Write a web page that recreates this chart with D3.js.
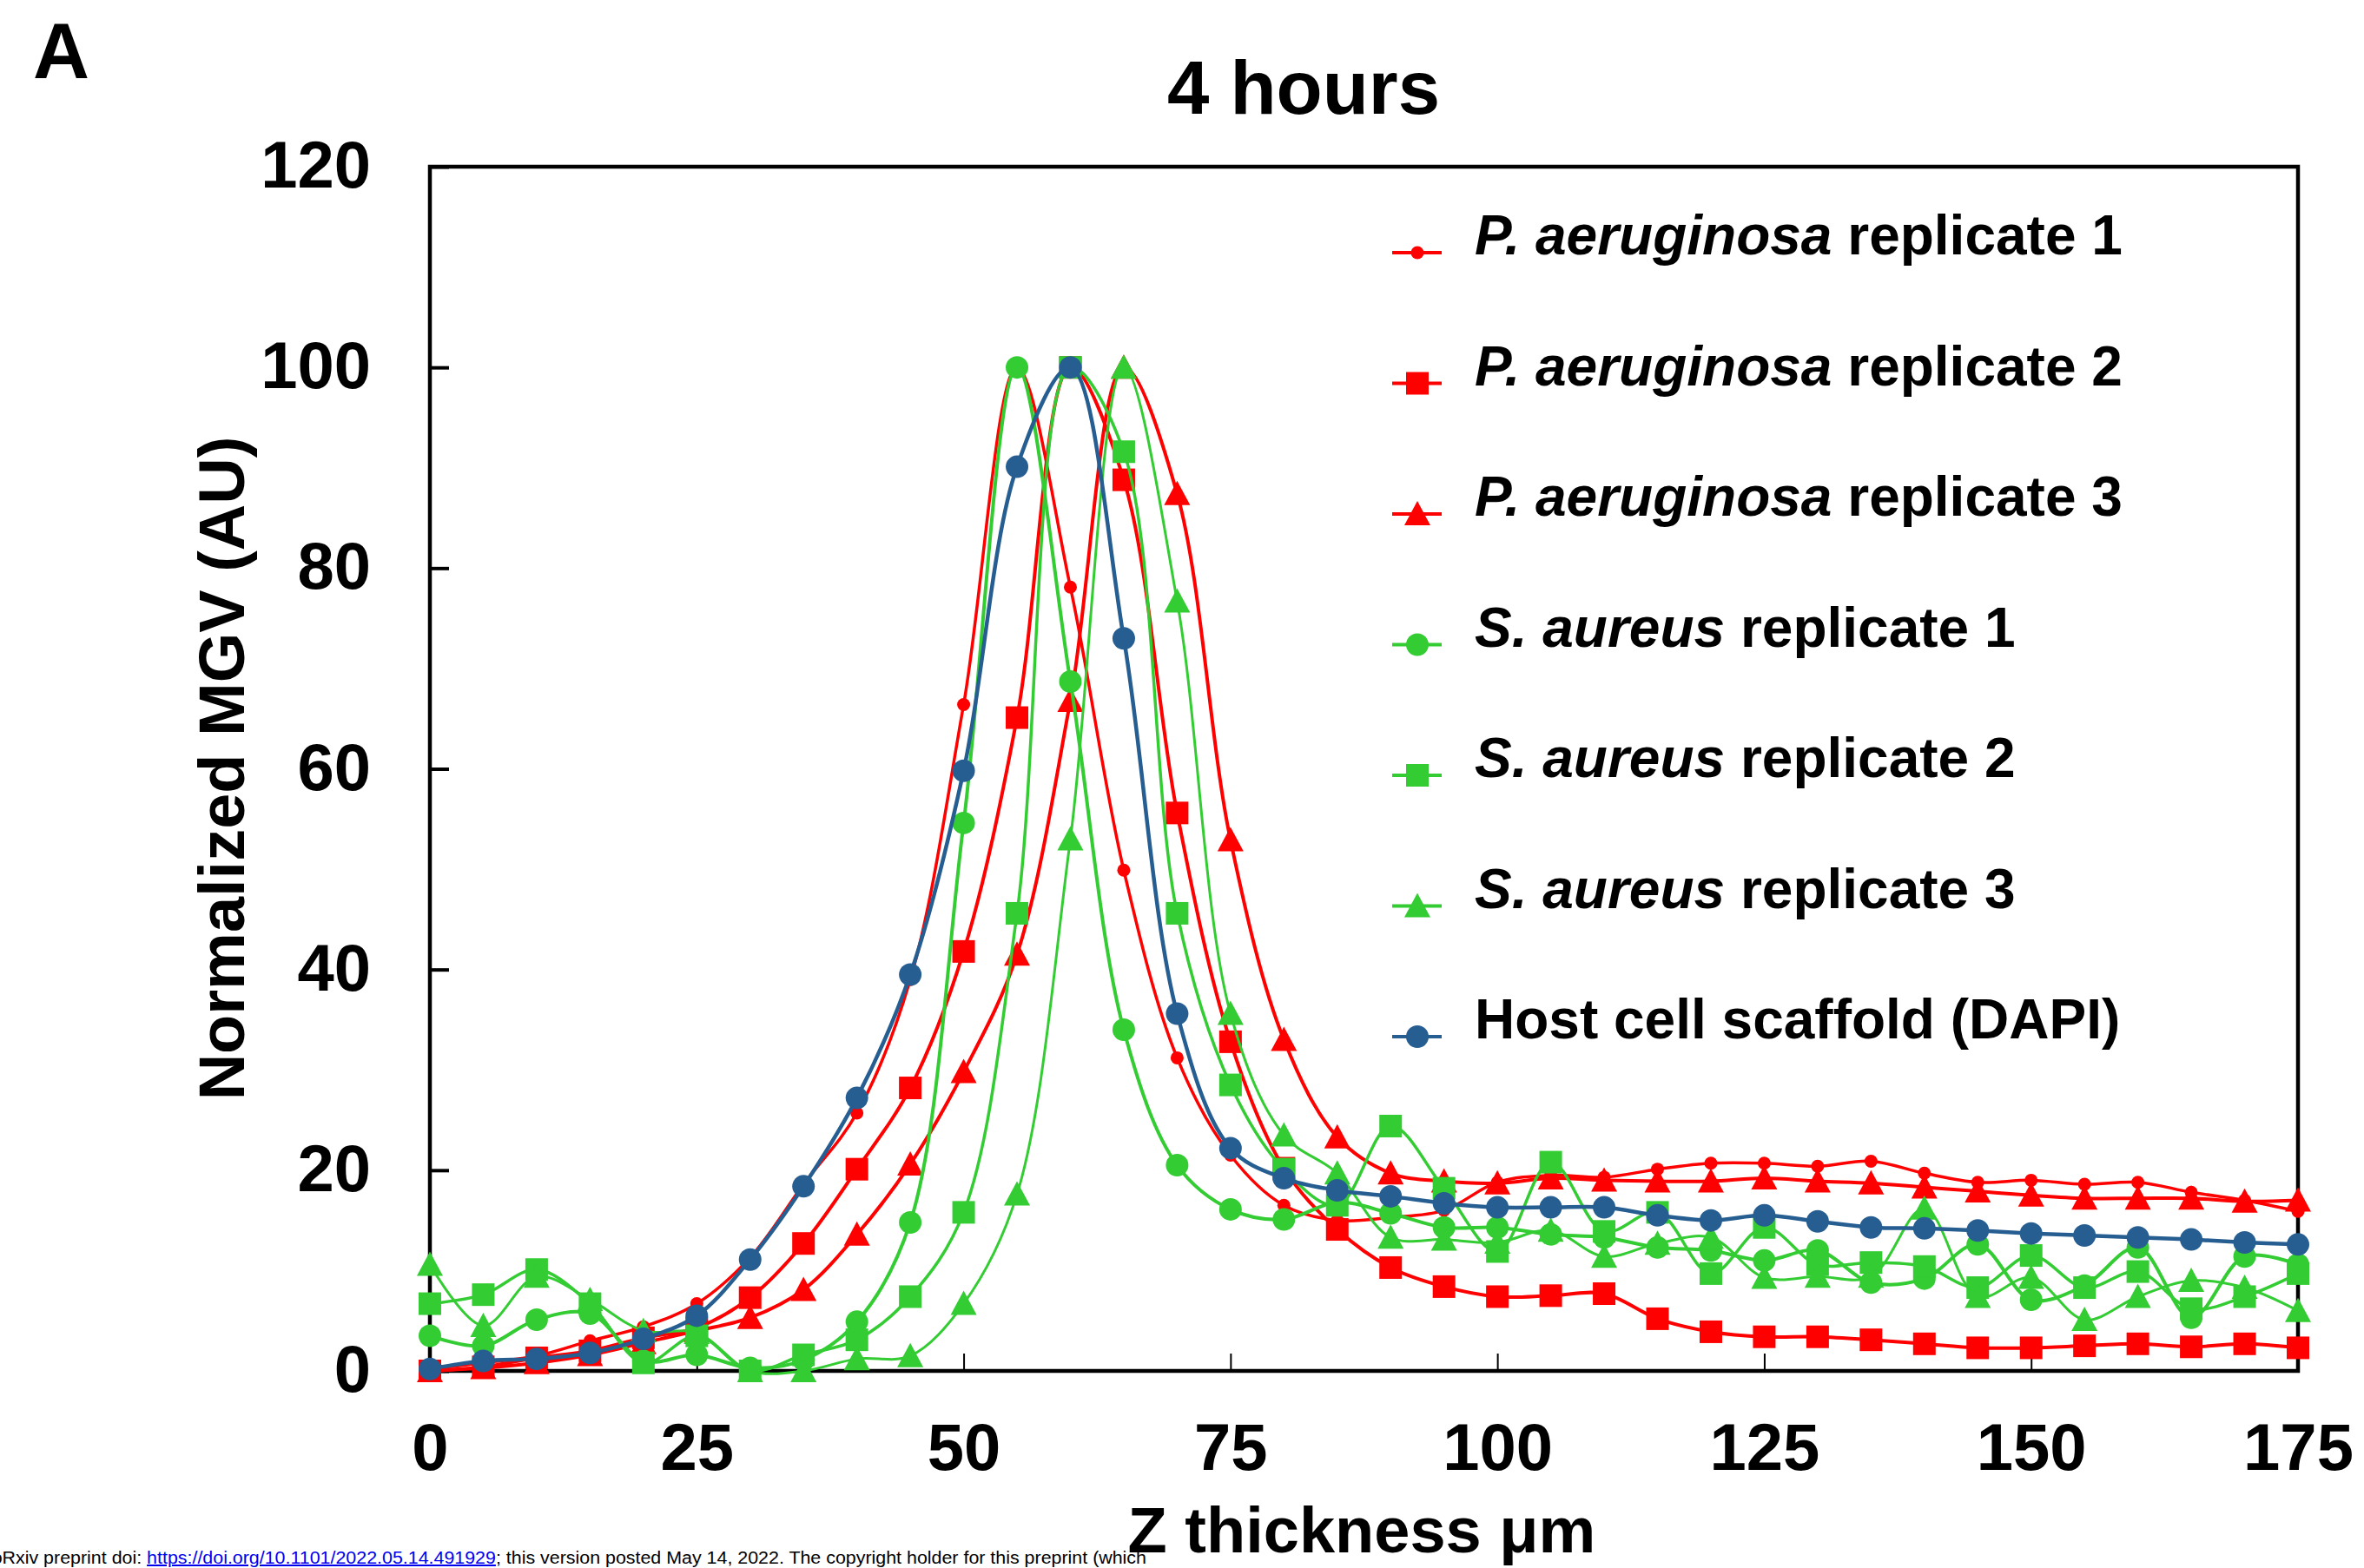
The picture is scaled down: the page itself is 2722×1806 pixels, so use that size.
<!DOCTYPE html>
<html><head><meta charset="utf-8">
<script src="https://cdn.jsdelivr.net/npm/d3@7"></script>
<style>html,body{margin:0;padding:0;background:#fff;}svg{display:block;}</style>
</head><body>
<script>
const zThickness = [0,5,10,15,20,25,30,35,40,45,50,55,60,65,70,75,80,85,90,95,100,105,110,115,120,125,130,135,140,145,150,155,160,165,170,175];
const paRep1 = [0.2,0.8,1.5,3.0,4.4,6.7,11.3,18.6,25.7,39.0,66.4,100,78.1,49.9,31.2,21.5,16.5,15.0,15.3,16.0,18.8,19.5,19.3,20.1,20.7,20.7,20.4,20.9,19.7,18.8,19.0,18.6,18.8,17.8,17.0,15.9];
const paRep2 = [0,0.4,1.3,2.0,3.3,4.3,7.3,12.7,20.1,28.2,41.8,65.1,100,88.8,55.6,32.8,20.2,14.1,10.3,8.4,7.4,7.5,7.7,5.2,3.9,3.4,3.4,3.1,2.7,2.3,2.3,2.5,2.7,2.4,2.7,2.3];
const paRep3 = [0,0.3,0.8,1.6,2.8,4.0,5.3,8.1,13.6,20.6,29.8,41.5,66.8,100,87.4,52.9,33.0,23.3,19.7,18.9,18.7,19.2,19.0,18.9,18.9,19.2,18.9,18.7,18.3,17.9,17.5,17.2,17.2,17.2,16.9,17.0];
const saRep1 = [3.5,2.5,5.1,5.7,1.0,1.6,0.3,1.1,4.9,14.8,54.6,100,68.7,34.0,20.5,16.1,15.1,16.8,15.7,14.3,14.3,13.6,13.3,12.3,12.0,11.0,12.0,8.8,9.2,12.6,7.1,8.5,12.3,5.3,11.4,10.6];
const saRep2 = [6.7,7.6,10.1,6.7,0.8,3.5,0,1.6,3.1,7.4,15.8,45.6,100,91.6,45.6,28.5,20.1,16.5,24.4,18.2,11.9,20.8,13.9,15.8,9.7,14.3,10.6,10.8,10.4,8.3,11.5,8.3,9.9,6.2,7.4,9.7];
const saRep3 = [10.6,4.5,9.4,7.1,4.0,3.8,0,0,1.2,1.5,6.7,17.6,53.0,100,76.7,35.6,23.5,19.7,13.3,13.1,12.8,14.0,11.4,12.7,13.3,9.3,9.4,9.4,16.2,7.4,9.3,5.1,7.4,9.0,8.3,6.0];
const hostDAPI = [0.2,1.0,1.2,1.8,3.2,5.5,11.1,18.4,27.2,39.5,59.8,90.1,100,73.0,35.6,22.2,19.2,18.0,17.4,16.7,16.3,16.3,16.3,15.5,15.0,15.5,14.9,14.3,14.2,14.0,13.7,13.5,13.3,13.1,12.8,12.6];

const seriesItalic = ["P. aeruginosa","P. aeruginosa","P. aeruginosa","S. aureus","S. aureus","S. aureus",""];
const seriesRest = [" replicate 1"," replicate 2"," replicate 3"," replicate 1"," replicate 2"," replicate 3","Host cell scaffold (DAPI)"];
const seriesValues = [paRep1,paRep2,paRep3,saRep1,saRep2,saRep3,hostDAPI];
const seriesColors = ["#FF0000","#FF0000","#FF0000","#33CC33","#33CC33","#33CC33","#265E91"];
const seriesMarkers = ["smallCircle","square","triangle","circle","square","triangle","circle"];
const seriesWidths = [3.5,4,4,4,3.5,3,4.5];
const yTicks = [0,20,40,60,80,100,120];
const xTicks = [0,25,50,75,100,125,150,175];

const W = 2722, H = 1806;
const FONT = "'Liberation Sans', Arial, Helvetica, sans-serif";
const svg = d3.select("body").append("svg").attr("width", W).attr("height", H)
  .style("font-family", FONT);

const L = 495, R = 2646, T = 192, B = 1579;
const x = d3.scaleLinear().domain([0,175]).range([L,R]);
const y = d3.scaleLinear().domain([0,120]).range([B,T]);

// panel label + title
svg.append("text").attr("x", 38).attr("y", 90).attr("font-size", 90).attr("font-weight", "bold").text("A");
svg.append("text").attr("x", 1501).attr("y", 131).attr("text-anchor", "middle").attr("font-size", 87).attr("font-weight", "bold").text("4 hours");

// axes
const yAxis = d3.axisLeft(y).tickValues(yTicks).tickSize(-22).tickPadding(70).tickFormat(d3.format("d"));
const gy = svg.append("g").attr("transform", `translate(${L},0)`).call(yAxis);
gy.select(".domain").remove();
gy.selectAll(".tick line").attr("stroke", "#000").attr("stroke-width", 4);
gy.selectAll(".tick text").attr("font-size", 76).attr("font-weight", "bold").attr("font-family", FONT).attr("fill", "#000").attr("x", -68).attr("dy", "0.31em");

const xAxis = d3.axisBottom(x).tickValues(xTicks).tickSize(-20).tickPadding(0).tickFormat(d3.format("d"));
const gx = svg.append("g").attr("transform", `translate(0,${B})`).call(xAxis);
gx.select(".domain").remove();
gx.selectAll(".tick line").attr("stroke", "#000").attr("stroke-width", 2);
gx.selectAll(".tick text").attr("font-size", 76).attr("font-weight", "bold").attr("font-family", FONT).attr("fill", "#000").attr("y", 114).attr("dy", 0);

// frame
svg.append("rect").attr("x", L).attr("y", T).attr("width", R-L).attr("height", B-T)
  .attr("fill", "none").attr("stroke", "#000").attr("stroke-width", 4.5);

// axis titles
svg.append("text").attr("transform", `translate(281,885) rotate(-90)`).attr("text-anchor", "middle")
  .attr("font-size", 74).attr("font-weight", "bold").text("Normalized MGV (AU)");
svg.append("text").attr("x", 1568).attr("y", 1788).attr("text-anchor", "middle")
  .attr("font-size", 74).attr("font-weight", "bold").text("Z thickness \u03bcm");

// marker drawing
function drawMarker(g, type, color) {
  if (type === "smallCircle") g.append("circle").attr("r", 7.5).attr("fill", color);
  else if (type === "circle") g.append("circle").attr("r", 13).attr("fill", color);
  else if (type === "square") g.append("rect").attr("x", -13).attr("y", -13).attr("width", 26).attr("height", 26).attr("fill", color);
  else if (type === "triangle") g.append("path").attr("d", "M0,-15 L15,13 L-15,13 Z").attr("fill", color);
}

const line = d3.line().x(d => x(d[0])).y(d => y(d[1])).curve(d3.curveCatmullRom.alpha(0.5));
const plot = svg.append("g");
seriesValues.forEach((vals, i) => {
  const pts = zThickness.map((z, j) => [z, vals[j]]);
  const g = plot.append("g");
  g.append("path").attr("d", line(pts)).attr("fill", "none").attr("stroke", seriesColors[i])
    .attr("stroke-width", seriesWidths[i]).attr("stroke-linejoin", "round");
  pts.forEach(p => {
    const m = g.append("g").attr("transform", `translate(${x(p[0])},${y(p[1])})`);
    drawMarker(m, seriesMarkers[i], seriesColors[i]);
  });
});

// legend
const legY0 = 291, legStep = 150.5;
seriesValues.forEach((vals, i) => {
  const ly = legY0 + i * legStep;
  const g = svg.append("g");
  g.append("line").attr("x1", 1603).attr("x2", 1660).attr("y1", ly).attr("y2", ly)
    .attr("stroke", seriesColors[i]).attr("stroke-width", 4);
  const m = g.append("g").attr("transform", `translate(1632,${ly})`);
  drawMarker(m, seriesMarkers[i], seriesColors[i]);
  const t = g.append("text").attr("x", 1698).attr("y", ly + 2).attr("font-size", 64).attr("font-weight", "bold");
  if (seriesItalic[i]) t.append("tspan").attr("font-style", "italic").text(seriesItalic[i]);
  t.append("tspan").text(seriesRest[i]);
});

// footer (preprint notice along the bottom edge)
const ft = svg.append("text").attr("x", -26).attr("y", 1801).attr("font-size", 20)
  .attr("textLength", 1346).attr("lengthAdjust", "spacingAndGlyphs").attr("fill", "#000");
ft.append("tspan").text("bioRxiv preprint doi: ");
ft.append("tspan").attr("fill", "#0000EE").attr("text-decoration", "underline").text("https://doi.org/10.1101/2022.05.14.491929");
ft.append("tspan").text("; this version posted May 14, 2022. The copyright holder for this preprint (which");
</script>
</body></html>
